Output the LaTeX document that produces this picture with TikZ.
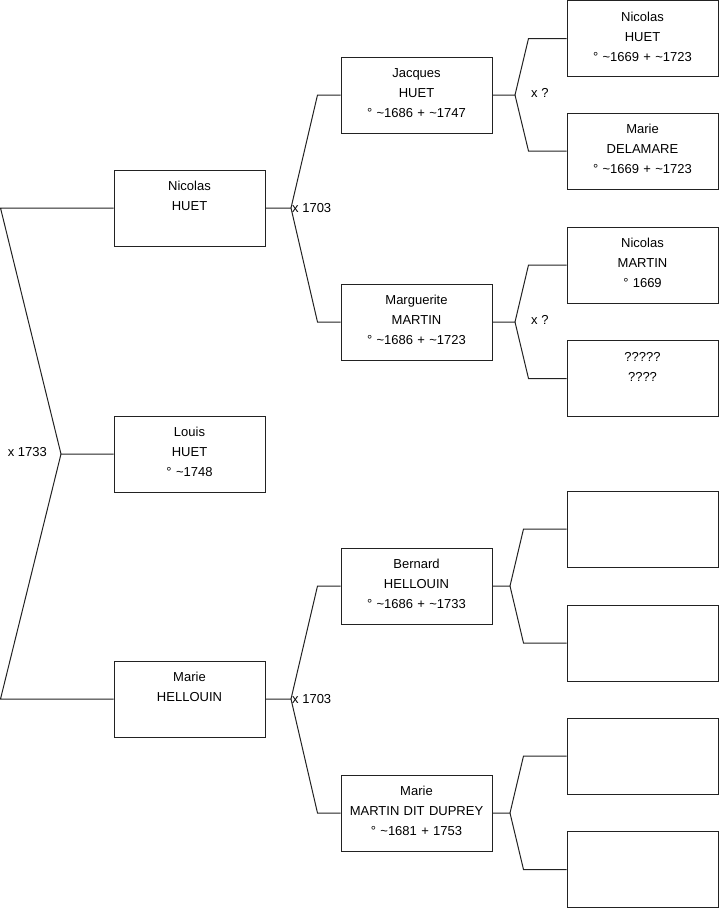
\documentclass[tikz,border=0pt]{standalone}
\usepackage{fontspec}
\setmainfont{Liberation Sans}
\usepackage{xcolor}
\definecolor{trait}{HTML}{222222}
\newcommand{\vers}{\textasciitilde}

\begin{document}
\begin{tikzpicture}[x=1pt,y=-1pt,
  persona/.style={draw=trait,line width=1pt,text width=151pt,
                  inner xsep=0pt,inner ysep=0pt,
                  text height=20.5pt,text depth=55.5pt,align=center,
                  font=\fontsize{13}{20}\selectfont},
  rama/.style={draw=trait,line width=1pt},
  union/.style={inner sep=0pt,font=\fontsize{13}{15}\selectfont}
]
\useasboundingbox (0,0) rectangle (719,908);

% generation 1
\node[persona] (nicolas) at (189.5,208) {Nicolas\\HUET};
\node[persona] (louis) at (189.5,454) {Louis\\HUET\\° \vers1748};
\node[persona] (marie) at (189.5,699) {Marie\\HELLOUIN};

% generation 2
\node[persona] (jacques) at (416.5,95) {Jacques\\HUET\\° \vers1686 + \vers1747};
\node[persona] (marguerite) at (416.5,322) {Marguerite\\MARTIN\\° \vers1686 + \vers1723};
\node[persona] (bernard) at (416.5,586) {Bernard\\HELLOUIN\\° \vers1686 + \vers1733};
\node[persona] (mariemartin) at (416.5,813) {Marie\\MARTIN DIT DUPREY\\° \vers1681 + 1753};

% generation 3
\node[persona] (pnicolas) at (642.5,38.5) {Nicolas\\HUET\\° \vers1669 + \vers1723};
\node[persona] (pmarie) at (642.5,151) {Marie\\DELAMARE\\° \vers1669 + \vers1723};
\node[persona] (pmartin) at (642.5,265) {Nicolas\\MARTIN\\° 1669};
\node[persona] (pinconnu) at (642.5,378.5) {?????\\????};
\node[persona] (vide1) at (642.5,529) {};
\node[persona] (vide2) at (642.5,643) {};
\node[persona] (vide3) at (642.5,756) {};
\node[persona] (vide4) at (642.5,869.5) {};

% fourches
\coordinate (a0) at (0.5,208);
\coordinate (b0) at (0.5,699);
\coordinate (u0) at (61,454);
\coordinate (u1) at (291,208);
\coordinate (u2) at (291,699);
\coordinate (u3) at (515,95);
\coordinate (u4) at (515,322);
\coordinate (u5) at (510,586);
\coordinate (u6) at (510,813);

\draw[rama] (nicolas.west) -- (a0) -- (u0) -- (louis.west);
\draw[rama] (u0) -- (b0) -- (marie.west);

\draw[rama] (nicolas.east) -- (u1) -- ([xshift=-23pt]jacques.west) -- (jacques.west);
\draw[rama] (u1) -- ([xshift=-23pt]marguerite.west) -- (marguerite.west);
\draw[rama] (marie.east) -- (u2) -- ([xshift=-23pt]bernard.west) -- (bernard.west);
\draw[rama] (u2) -- ([xshift=-23pt]mariemartin.west) -- (mariemartin.west);

\draw[rama] (jacques.east) -- (u3) -- ([xshift=-38pt]pnicolas.west) -- (pnicolas.west);
\draw[rama] (u3) -- ([xshift=-38pt]pmarie.west) -- (pmarie.west);
\draw[rama] (marguerite.east) -- (u4) -- ([xshift=-38pt]pmartin.west) -- (pmartin.west);
\draw[rama] (u4) -- ([xshift=-38pt]pinconnu.west) -- (pinconnu.west);
\draw[rama] (bernard.east) -- (u5) -- ([xshift=-43pt]vide1.west) -- (vide1.west);
\draw[rama] (u5) -- ([xshift=-43pt]vide2.west) -- (vide2.west);
\draw[rama] (mariemartin.east) -- (u6) -- ([xshift=-43pt]vide3.west) -- (vide3.west);
\draw[rama] (u6) -- ([xshift=-43pt]vide4.west) -- (vide4.west);

% mariages
\node[union,anchor=east] (m0) at (47,452) {x 1733};
\node[union,anchor=west] (m1) at (292,208) {x 1703};
\node[union,anchor=west] (m2) at (292,699) {x 1703};
\node[union,anchor=west] (m3) at (531,93) {x ?};
\node[union,anchor=west] (m4) at (531,320) {x ?};
\end{tikzpicture}
\end{document}
